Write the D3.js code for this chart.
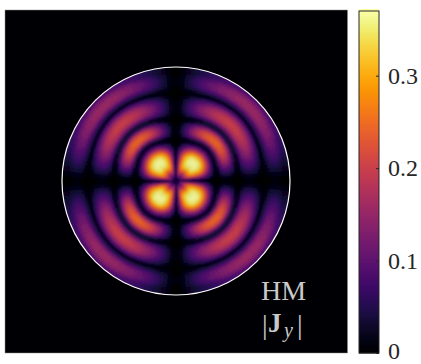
<!DOCTYPE html>
<html>
<head>
<meta charset="utf-8">
<script src="https://cdn.jsdelivr.net/npm/d3@7"></script>
<style>
    body { margin: 0; background: #fff; }
    svg { display: block; }
    text { font-family: "Liberation Serif", serif; }
</style>
</head>
<body>
<div id="chart"></div>
<script>
// |Jy| read along the diagonal of a quadrant, centre to rim
let diagonalProfile = [
    0.01, 0.06, 0.12, 0.19, 0.26, 0.32, 0.355, 0.368, 0.368, 0.355, 0.31, 0.24, 0.16,
    0.08, 0.02, 0.05, 0.16, 0.23, 0.245, 0.22, 0.15, 0.05, 0.03, 0.11, 0.17, 0.195,
    0.20, 0.18, 0.14, 0.08, 0.015, 0.05, 0.105, 0.145, 0.155, 0.15, 0.125, 0.09
]

// first cell of each lobe along the diagonal profile
let lobeStarts = [15, 22, 30]

// fraction of the diagonal value, from the axis (0 deg) to the diagonal (45 deg)
let lobeInner = [.04, .16, .28, .40, .50, .60, .68, .75, .81, .86, .90, .93, .96, .98, .99, 1, 1, 1]
let lobeSecond = [.02, .07, .14, .22, .31, .40, .49, .58, .66, .73, .80, .85, .90, .94, .96, .98, 1, 1]
let lobeThird = [.03, .10, .19, .29, .39, .48, .56, .64, .71, .77, .82, .87, .91, .94, .97, .99, 1, 1]
let lobeOuter = [.03, .11, .21, .31, .41, .50, .58, .65, .72, .78, .83, .87, .91, .94, .97, .99, 1, 1]

// rings sit a little closer to the centre near the axes (fraction of the radius)
let ringShift = [.036, .035, .034, .032, .03, .028, .026, .023, .02, .017, .014, .011, .008, .006, .004, .002, .001, 0]

let tickValues = [0, 0.1, 0.2, 0.3]
let colorMax = 0.37
let lobes = [lobeInner, lobeSecond, lobeThird, lobeOuter]

const width = 421
const height = 364
const plot = { left: 5, right: 347.5, top: 10, bottom: 353 }
const bar = { left: 359, right: 379, top: 11, bottom: 353 }
const center = { x: 176, y: 181 }
const radius = 114

const color = d3.scaleSequential(d3.interpolateInferno).domain([0, colorMax])

const rScale = d3.scaleBand()
    .domain(d3.range(diagonalProfile.length))
    .range([0, radius])

const angleScale = d3.scaleBand()
    .domain(d3.range(lobeInner.length * 8))
    .range([0, 2 * Math.PI])

// fold the angle cell into the first 45 degrees
function foldAngle(j) {
    const n = lobeInner.length
    const q = j % (2 * n)
    return q < n ? q : 2 * n - 1 - q
}

const svg = d3.select('#chart')
    .append('svg')
    .attr('width', width)
    .attr('height', height)

const defs = svg.append('defs')

defs.append('filter')
    .attr('id', 'soften')
    .attr('x', '-5%').attr('y', '-5%')
    .attr('width', '110%').attr('height', '110%')
    .append('feGaussianBlur')
    .attr('stdDeviation', 1.3)

defs.append('clipPath')
    .attr('id', 'disk')
    .append('circle')
    .attr('r', radius)

// black frame
svg.append('rect')
    .attr('x', plot.left)
    .attr('y', plot.top)
    .attr('width', plot.right - plot.left)
    .attr('height', plot.bottom - plot.top)
    .attr('fill', color(0))
    .attr('stroke', '#8a8a8a')
    .attr('stroke-width', 0.5)

// polar cells
const disk = svg.append('g')
    .attr('transform', `translate(${center.x}, ${center.y})`)

const cells = []
rScale.domain().forEach(i => {
    angleScale.domain().forEach(j => {
        const a = foldAngle(j)
        const lobe = d3.bisectRight(lobeStarts, i)
        cells.push({ i, j, shift: ringShift[a] * radius, value: diagonalProfile[i] * lobes[lobe][a] })
    })
})

const lastCell = diagonalProfile.length - 1

const arc = d3.arc()
    .innerRadius(d => Math.max(0, rScale(d.i) - d.shift))
    .outerRadius(d => d.i === lastCell ? radius + 8 : rScale(d.i) + rScale.bandwidth() - d.shift)
    .startAngle(d => angleScale(d.j))
    .endAngle(d => angleScale(d.j) + angleScale.bandwidth())

disk.append('g')
    .attr('clip-path', 'url(#disk)')
    .append('g')
    .attr('filter', 'url(#soften)')
    .selectAll('path')
    .data(cells)
    .join('path')
    .attr('d', arc)
    .attr('fill', d => color(d.value))
    .attr('stroke', d => color(d.value))
    .attr('stroke-width', 0.5)

disk.append('circle')
    .attr('r', radius)
    .attr('fill', 'none')
    .attr('stroke', '#fff')
    .attr('stroke-width', 1.2)

// annotation
const note = svg.append('g')
    .attr('fill', '#c9c9c9')

note.append('text')
    .attr('x', 261)
    .attr('y', 300)
    .attr('font-size', 28)
    .text('HM')

note.append('text').attr('x', 262).attr('y', 334).attr('font-size', 28).text('|')
note.append('text').attr('x', 268).attr('y', 332).attr('font-size', 27).attr('font-weight', 'bold').text('J')
note.append('text').attr('x', 284).attr('y', 337).attr('font-size', 20).attr('font-style', 'italic').text('y')
note.append('text').attr('x', 297).attr('y', 334).attr('font-size', 28).text('|')

// colorbar
const barScale = d3.scaleLinear()
    .domain([0, colorMax])
    .range([bar.bottom, bar.top])

const barSteps = d3.range(0, colorMax, colorMax / 171)

svg.append('g')
    .selectAll('rect')
    .data(barSteps)
    .join('rect')
    .attr('x', bar.left)
    .attr('width', bar.right - bar.left)
    .attr('y', d => barScale(d + colorMax / 171))
    .attr('height', (bar.bottom - bar.top) / 171 + 0.5)
    .attr('fill', d => color(d))

svg.append('rect')
    .attr('x', bar.left)
    .attr('y', bar.top)
    .attr('width', bar.right - bar.left)
    .attr('height', bar.bottom - bar.top)
    .attr('fill', 'none')
    .attr('stroke', '#262626')
    .attr('stroke-width', 1)

const axis = d3.axisRight(barScale)
    .tickValues(tickValues)
    .tickFormat(d => d === 0 ? '0' : d3.format('.1f')(d))
    .tickSizeInner(-3)
    .tickSizeOuter(0)
    .tickPadding(9)

const axisDraw = svg.append('g')
    .attr('transform', `translate(${bar.right}, 0)`)
    .call(axis)

axisDraw.select('.domain').remove()
axisDraw.selectAll('line').attr('stroke', '#262626')
axisDraw.selectAll('text')
    .attr('font-family', '"Liberation Serif", serif')
    .attr('font-size', 24)
    .attr('fill', '#262626')

// keep the 0 label inside the window
axisDraw.selectAll('text')
    .filter(d => d === 0)
    .attr('y', -2)
</script>
</body>
</html>
